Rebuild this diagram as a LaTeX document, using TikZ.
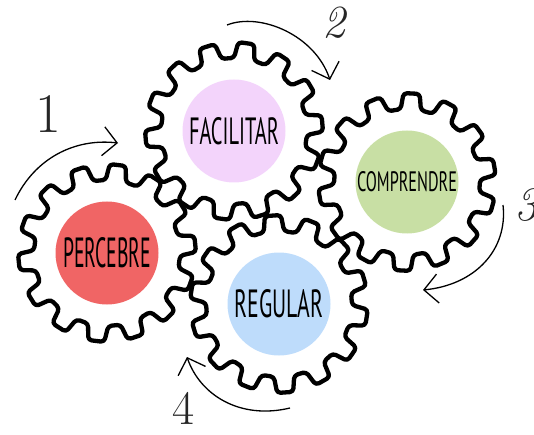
\documentclass[tikz,border=0pt]{standalone}
\usepackage{fontspec}
\usepackage{graphicx}
\usetikzlibrary{arrows.meta}
\newfontfamily\lblfont{PT Sans}
\definecolor{cred}{HTML}{F06565}
\definecolor{clilac}{HTML}{F3D4FB}
\definecolor{cgreen}{HTML}{C8DFA4}
\definecolor{cblue}{HTML}{BEDCFB}
\tikzset{
  gearline/.style={line width=4.3pt, rounded corners=3.5pt, line join=round, black},
  disk/.style={circle, inner sep=0pt, minimum size=103pt, draw=none},
  flowarrow/.style={line width=1.3pt, -{Straight Barb[length=14pt,width=29pt]}},
  numlbl/.style={inner sep=0pt, text=black!85}
}
\newcommand{\drawgear}[2]{%
  \begin{scope}[shift={#1}]
    \draw[gearline] ({#2-12.857}:73)
      \foreach \k in {0,...,13}{
        -- ({#2+\k*25.714-8.0}:73) -- ({#2+\k*25.714-5.2}:89)
        -- ({#2+\k*25.714+5.2}:89) -- ({#2+\k*25.714+8.0}:73)
      } -- cycle;
  \end{scope}}
\newcommand{\gearlabel}[3]{\resizebox{#1pt}{#2pt}{\lblfont #3}}
\begin{document}
\begin{tikzpicture}[x=1pt, y=-1pt]
\useasboundingbox (0,0) rectangle (534,435);
\clip (0,0) rectangle (534,435);
% colored disks with labels
\node[disk, fill=cred]   (percebre)   at (107,253) {\gearlabel{88}{30}{PERCEBRE}};
\node[disk, fill=clilac] (facilitar)  at (234,131) {\gearlabel{90}{27}{FACILITAR}};
\node[disk, fill=cgreen] (comprendre) at (407,182) {\gearlabel{100}{20}{COMPRENDRE}};
\node[disk, fill=cblue]  (regular)    at (279,304) {\gearlabel{89}{28}{REGULAR}};
% gears
\drawgear{(107,253)}{277}
\drawgear{(234,131)}{278}
\drawgear{(407,182)}{273}
\drawgear{(279,304)}{266}
% numbers
\node[numlbl, font=\fontsize{56}{56}\selectfont] (n1) at (48,114) {1};
\node[numlbl, font=\fontsize{46}{46}\selectfont\itshape] (n2) at (334,23) {2};
\node[numlbl, font=\fontsize{48}{48}\selectfont\itshape] (n3) at (526,205) {3};
\node[numlbl, font=\fontsize{48}{48}\selectfont] (n4) at (184,408) {4};
% arrow end points
\coordinate (a1s) at (15,200);  \coordinate (a1e) at (118,143);
\coordinate (a2s) at (227,25);  \coordinate (a2e) at (330,80);
\coordinate (a3s) at (503,205); \coordinate (a3e) at (423,290);
\coordinate (a4s) at (290,408); \coordinate (a4e) at (187,357);
\draw[flowarrow] (a1s) .. controls (35,158) and (75,138) .. (a1e);
\draw[flowarrow] (a2s) .. controls (260,12) and (315,35) .. (a2e);
\draw[flowarrow] (a3s) .. controls (508,250) and (475,285) .. (a3e);
\draw[flowarrow] (a4s) .. controls (240,420) and (200,395) .. (a4e);
\end{tikzpicture}
\end{document}
